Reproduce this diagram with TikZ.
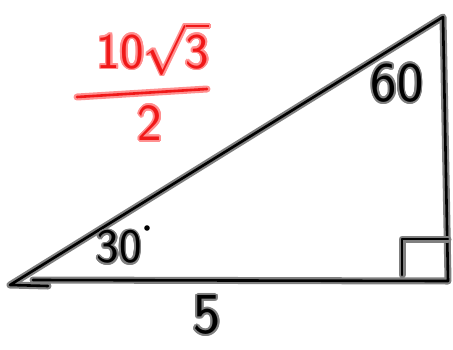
\RequirePackage{fix-cm}
\documentclass[tikz,border=0pt]{standalone}
\usepackage{amsmath}
\usepackage{xcolor}
\usepackage[copies]{contour}
\usepackage{tikz}
\definecolor{inkRed}{HTML}{F01818}
\definecolor{haloRed}{HTML}{FF9090}
\contourlength{1.8pt}
\contournumber{16}
\tikzset{
    pen/.style={line width=2.6pt, black, line cap=round, line join=round,
        preaction={draw, black!50, line width=7pt, line cap=round, line join=round}},
    redpen/.style={line width=2.6pt, inkRed, line cap=round,
        preaction={draw, haloRed, line width=7pt, line cap=round}},
    hand/.style={font=\sffamily\fontsize{#1}{#1}\selectfont, inner sep=0pt}
}

\begin{document}
\begin{tikzpicture}[x=1pt, y=-1pt]
    \useasboundingbox (0,0) rectangle (453,349);
    % corners of the triangle
    \coordinate (A) at (10,285);
    \coordinate (B) at (443,17);
    \coordinate (C) at (448,281);
    \coordinate (tail) at (48,286);
    \coordinate (base) at (33,280);
    \draw[pen] (tail) -- (A) -- (B) -- (C) -- (base);
    % right angle mark
    \coordinate (ra1) at (402,275);
    \coordinate (ra2) at (402,239);
    \coordinate (ra3) at (448,239);
    \draw[pen] (ra1) -- (ra2) -- (ra3);
    % angles and side
    \node[hand=56] (sixty) at (397,84) {\contour{black!50}{60}};
    \node[hand=48] (thirty) at (119,248) {\contour{black!50}{30}};
    \fill (147,228) circle (2.8pt);
    \node[hand=58] (five) at (207,316) {\contour{black!50}{5}};
    % red fraction
    \node[hand=50, inkRed] (num) at (153,50)
        {\contour{haloRed}{$\mathsf{10}\sqrt{\mathsf{3}}$}};
    \coordinate (barL) at (77,97);
    \coordinate (barR) at (207,89);
    \draw[redpen] (barL) -- (barR);
    \node[hand=52, inkRed] (den) at (150,124) {\contour{haloRed}{2}};
\end{tikzpicture}
\end{document}
